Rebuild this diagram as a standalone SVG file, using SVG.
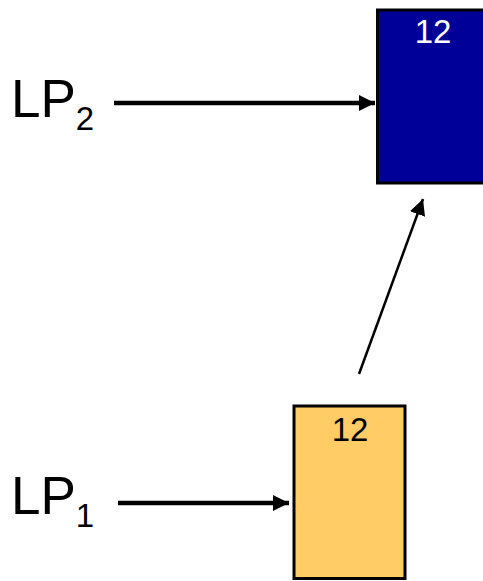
<svg xmlns="http://www.w3.org/2000/svg" width="483" height="581" viewBox="0 0 483 581">
<style>
.box{stroke:#000;stroke-width:3}
.lbl{font-family:"Liberation Sans",Arial,sans-serif}
.big{font-size:53px;fill:#000}
.sub{font-size:33px;fill:#000}
.num{font-size:33px;text-anchor:middle}
.conn{stroke:#000;fill:none}
</style>
<defs>
<marker id="ah" viewBox="0 0 16 16" refX="16" refY="8" markerWidth="16" markerHeight="16" markerUnits="userSpaceOnUse" orient="auto">
<path d="M0,0 L16,8 L0,16 Z" fill="#000"/>
</marker>
</defs>
<g id="node-blue">
<rect class="box" x="377.5" y="10" width="110" height="173" fill="#000099"/>
<text class="lbl num" x="433" y="43" fill="#fff">12</text>
</g>
<g id="node-orange">
<rect class="box" x="294" y="406" width="111" height="172.5" fill="#FFCC66"/>
<text class="lbl num" x="350" y="441" fill="#000">12</text>
</g>
<g id="label-lp2">
<text class="lbl" x="11" y="117"><tspan class="big">LP</tspan><tspan class="sub" dy="13">2</tspan></text>
</g>
<g id="label-lp1">
<text class="lbl" x="11" y="514"><tspan class="big">LP</tspan><tspan class="sub" dy="13">1</tspan></text>
</g>
<g id="connectors">
<line class="conn" x1="114" y1="103" x2="375" y2="103" stroke-width="4.5" marker-end="url(#ah)"/>
<line class="conn" x1="118" y1="503" x2="289" y2="503" stroke-width="4.5" marker-end="url(#ah)"/>
<line class="conn" x1="359" y1="374" x2="423" y2="199" stroke-width="2.5" marker-end="url(#ah)"/>
</g>
</svg>
